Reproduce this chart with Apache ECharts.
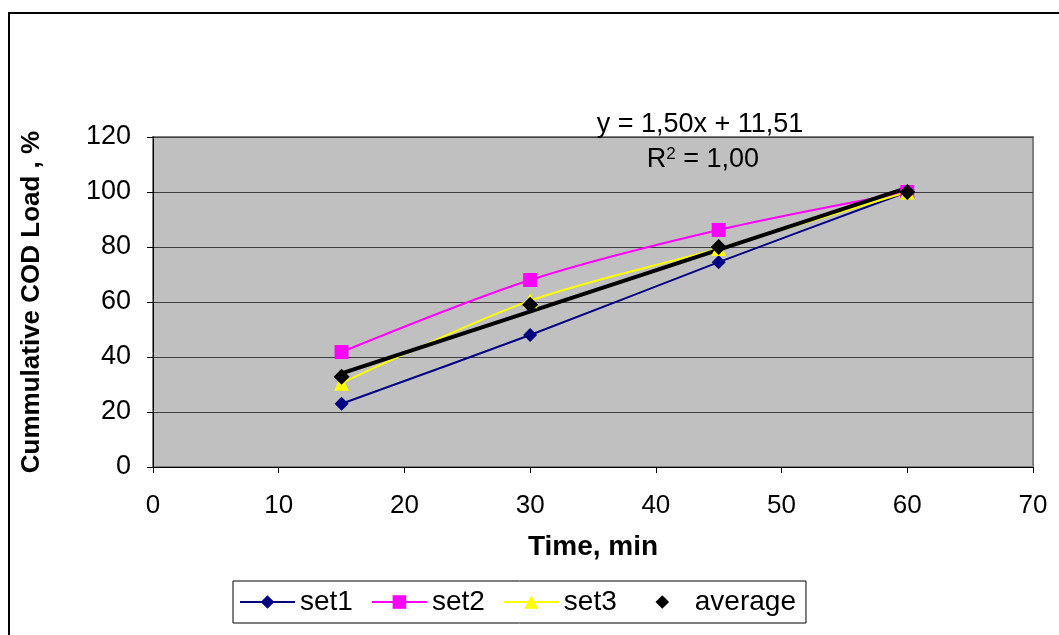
<!DOCTYPE html>
<html>
<head>
<meta charset="utf-8">
<script src="https://cdn.jsdelivr.net/npm/echarts@6/dist/echarts.min.js"></script>
<style>html,body{margin:0;padding:0;background:#fff}#c{width:1059px;height:635px}</style>
</head>
<body>
<div id="c"></div>
<script>
var times = [15, 30, 45, 60];
var set1 = [23, 48, 74.5, 100];
var set2 = [41.8, 68, 86.2, 100];
var set3 = [30.5, 60.5, 79.5, 100];
var average = [32.8, 59, 80, 100];
var trendX = [15, 60];
var trendY = [34.01, 101.51];
var xTicks = [0, 10, 20, 30, 40, 50, 60, 70];
var yTicks = [0, 20, 40, 60, 80, 100, 120];
var trendLabel = 'y = 1,50x + 11,51';

function pairs(xs, ys) { return xs.map(function (x, i) { return [x, ys[i]]; }); }

var font = '"Liberation Sans", Arial, sans-serif';
var chart = echarts.init(document.getElementById('c'), null, { renderer: 'canvas' });
chart.setOption({
  animation: false,
  backgroundColor: '#fff',
  textStyle: { fontFamily: font, color: '#000' },
  grid: { left: 153, right: 26, top: 137, bottom: 168, show: true,
          backgroundColor: '#c0c0c0', borderColor: '#808080', borderWidth: 2 },
  xAxis: {
    type: 'value', min: xTicks[0], max: xTicks[xTicks.length - 1], interval: 10,
    name: 'Time, min', nameLocation: 'middle', nameGap: 66,
    nameTextStyle: { fontSize: 28, fontWeight: 'bold', fontFamily: font, color: '#000' },
    axisLine: { show: true, onZero: false, lineStyle: { color: '#000', width: 1 } },
    axisTick: { show: true, length: 6, lineStyle: { color: '#000' } },
    axisLabel: { fontSize: 26, color: '#000', margin: 26, fontFamily: font },
    splitLine: { show: false }
  },
  yAxis: {
    type: 'value', min: yTicks[0], max: yTicks[yTicks.length - 1], interval: 20,
    name: 'Cummulative COD Load , %', nameLocation: 'middle', nameGap: 108,
    nameTextStyle: { fontSize: 26, fontWeight: 'bold', fontFamily: font, color: '#000' },
    axisLine: { show: true, onZero: false, lineStyle: { color: '#000', width: 1 } },
    axisTick: { show: true, length: 6, lineStyle: { color: '#000' } },
    axisLabel: { fontSize: 27, color: '#000', margin: 22, fontFamily: font },
    splitLine: { show: true, lineStyle: { color: '#404040', width: 1 } }
  },
  legend: {
    data: ['set1', 'set2', 'set3', 'average'],
    left: 233, top: 581, orient: 'horizontal',
    borderColor: '#000', borderWidth: 1, padding: [7, 10, 7, 6],
    itemWidth: 55, itemHeight: 17, itemGap: 18, symbolKeepAspect: true,
    textStyle: { fontSize: 28, color: '#000', fontFamily: font }
  },
  series: [
    { name: 'set1', type: 'line', smooth: 0.3, data: pairs(times, set1),
      symbol: 'diamond', symbolSize: 14, itemStyle: { color: '#000080' },
      lineStyle: { color: '#000080', width: 2 } },
    { name: 'set2', type: 'line', smooth: 0.3, data: pairs(times, set2),
      symbol: 'rect', symbolSize: 14, itemStyle: { color: '#ff00ff' },
      lineStyle: { color: '#ff00ff', width: 2 } },
    { name: 'set3', type: 'line', smooth: 0.3, data: pairs(times, set3),
      symbol: 'triangle', symbolSize: 15, itemStyle: { color: '#ffff00' },
      lineStyle: { color: '#ffff00', width: 2 } },
    { name: 'trend', type: 'line', data: pairs(trendX, trendY), symbol: 'none',
      lineStyle: { color: '#000', width: 4 }, silent: true },
    { name: 'average', type: 'line', data: pairs(times, average),
      symbol: 'diamond', symbolSize: 16, itemStyle: { color: '#000' },
      lineStyle: { color: '#000', width: 0, opacity: 0 } }
  ],
  graphic: [
    { type: 'polyline', shape: { points: [[9, 635], [9, 13], [1059, 13]] },
      style: { stroke: '#000', lineWidth: 2, fill: null }, z: 100 },
    { type: 'text', x: 700, y: 125, z: 100,
      style: { text: trendLabel, fontSize: 27, fontFamily: font, fill: '#000', align: 'center', verticalAlign: 'middle' } },
    { type: 'text', x: 703, y: 160, z: 100,
      style: { text: '{a|R}{b|2}{a| = 1,00}', fontFamily: font, fill: '#000', align: 'center', verticalAlign: 'middle',
               rich: { a: { fontSize: 27, fontFamily: font, fill: '#000', lineHeight: 30 },
                       b: { fontSize: 17, fontFamily: font, fill: '#000', lineHeight: 30, padding: [0, 0, 12, 0] } } } }
  ]
});
</script>
</body>
</html>
